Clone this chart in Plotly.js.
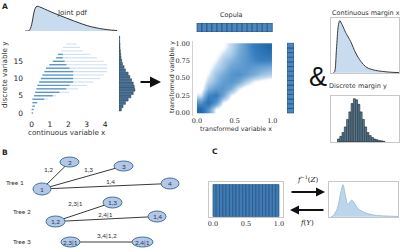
<!DOCTYPE html>
<html><head><meta charset="utf-8">
<script src="https://cdn.plot.ly/plotly-3.0.1.min.js"></script>
<style>html,body{margin:0;padding:0;background:#fff;}#chart{width:400px;height:251px;}</style>
</head><body><div id="chart"></div>
<script>
// ---------- Panel A: joint pdf (rows of points at discrete y) ----------
const jointRowY      = [0,   1,   2,   3,   4,   5,   6,   7,   8,   9,   10,  11,  12,  13,  14,  15,  16,  17,  18,  19,  20];
const jointRowStart  = [0.0, 0.0, 0.04,0.04,0.04,0.13,0.19,0.26,0.31,0.41,0.5, 0.59,0.69,0.78,0.96,1.15,1.33,1.43,1.61,1.7, 1.89];
const jointDenseEnd  = [0.08,0.11,0.18,0.31,0.69,1.15,1.52,1.89,2.07,2.26,2.26,2.26,2.26,2.07,1.89,1.8, 1.7, 1.7, 1.61,1.7, 1.89];
const jointSparseEnd = [0.08,0.11,0.18,0.31,0.9, 1.33,2.07,2.54,3.0, 3.37,3.74,3.93,4.11,4.11,4.11,3.93,3.56,3.19,2.81,2.63,2.44];
const jointKdeX = [-0.35,-0.15,0.0,0.1,0.2,0.29,0.45,0.7,1.0,1.45,1.9,2.35,2.8,3.25,3.7,4.15,4.65];
const jointKdeY = [0,0.01,0.25,0.65,0.92,1.0,0.97,0.89,0.79,0.65,0.52,0.39,0.27,0.17,0.10,0.05,0.02];
const jointHistY = [1.0,1.95,2.9,3.85,4.8,5.75,6.7,7.65,8.6,9.55,10.5,11.45,12.4,13.35,14.3,15.25,16.2,17.15,18.1,19.05,20.0,20.95,21.9];
const jointHistN = [7,12,19,27,35,42,47,45,42,37,32,27,19,15,10,8,6,5,4,3,3,2,2];
const jointTickX = [0,1,2,3,4];
const jointTickY = [0,5,10,15];

// ---------- Copula: density grid ----------
const copulaCenters = [0.05,0.15,0.25,0.35,0.45,0.55,0.65,0.75,0.85,0.95];
const copulaDensity = [
  [1.0, 0.6, 0.1, 0,   0,   0,   0,   0,   0,   0   ],
  [0.6, 0.9, 0.6, 0.15,0.02,0,   0,   0,   0,   0   ],
  [0.2, 0.7, 0.8, 0.5, 0.15,0.03,0,   0,   0,   0   ],
  [0.05,0.4, 0.55,0.6, 0.45,0.2, 0.05,0.02,0,   0   ],
  [0.02,0.25,0.4, 0.55,0.6, 0.5, 0.3, 0.15,0.1, 0.05],
  [0,   0.15,0.35,0.45,0.6, 0.65,0.55,0.45,0.35,0.3 ],
  [0,   0.08,0.25,0.35,0.5, 0.55,0.6, 0.55,0.5, 0.45],
  [0,   0.03,0.15,0.3, 0.4, 0.5, 0.6, 0.7, 0.75,0.75],
  [0,   0,   0.08,0.2, 0.3, 0.45,0.6, 0.75,0.85,0.9 ],
  [0,   0,   0.03,0.1, 0.25,0.4, 0.6, 0.8, 0.9, 1.0 ]
];
const copulaMarginCounts = [1,1,1,1,1,1,1,1,1,1,1,1,1,1,1];
const copulaTicksY = [0,0.25,0.5,0.75,1];
const copulaTicksX = [0,0.5,1];

// ---------- Margins ----------
const contX = [-0.2,-0.1,0.05,0.2,0.32,0.5,0.81,1.22,1.63,2.05,2.56,3.28,4.38,5.2];
const contY = [0,0.02,0.45,0.9,1.0,0.93,0.77,0.6,0.38,0.22,0.1,0.045,0.013,0.003];
const discreteY = [0,1,2,3,4,5,6,7,8,9,10,11,12,13,14,15,16,17,18,19,20];
const discreteN = [8,15,25,40,60,80,102,115,112,100,80,60,40,25,17,12,8,6,4,3,2];

// ---------- Panel C ----------
const uniformCounts = [1,1,1,1,1,1,1,1,1,1,1,1,1,1,1,1,1,1,1,1];
const uniformTicks = [0,0.5,1];
const bimodX = [0.03,0.058,0.12,0.17,0.203,0.235,0.271,0.3,0.329,0.37,0.42,0.522,0.667,0.909,1.0];
const bimodY = [0,0.02,0.25,0.75,1.0,0.7,0.37,0.45,0.52,0.42,0.25,0.125,0.044,0.0125,0.005];

// ---------- Panel B: vine trees ----------
const treeNodeLabels = ['1','2','3','4','1,2','1,3','1,4','2,3|1','2,4|1'];
const treeEdges = [[0,1],[0,2],[0,3],[4,5],[4,6],[7,8]];
const treeEdgeLabels = ['1,2','1,3','1,4','2,3|1','2,4|1','3,4|1,2'];
const treeLevelLabels = ['Tree 1','Tree 2','Tree 3'];

// ================= drawing =================
const W=400,H=251;
const PX=x=>x/W, PY=y=>1-y/H;
const dX=(a,b)=>[a/W,b/W], dY=(t,b)=>[1-b/H,1-t/H];
const SANS='DejaVu Sans', SERIF='DejaVu Serif', TREE='Lato';
function axis(dom, range, extra){
  return Object.assign({domain:dom, range:range, showgrid:false, zeroline:false, showline:false,
    ticks:'', showticklabels:false, fixedrange:true}, extra||{});
}
const frame={showline:true, mirror:true, linecolor:'#c8c8c8', linewidth:1};

// layout positions (pixels) for the diagram
const nodePos = [[42,189],[69.5,162],[123.5,166],[170,183.5],[55.5,221.5],[112.5,202.5],[157,216.5],[70.5,242],[142.5,242]];
const nodeSize = [[18,12],[19,10],[19,10],[18,11],[19,11],[19,11],[18,11],[19,10],[21,10]];
const edgeLabelPos = [[48,169],[88,169],[110,181.5],[75,203.5],[105,214],[107,235.5]];
const levelPos = [[15,182],[22,211],[22,241]];

const traces=[];
// A rows
let dxs=[],dys=[],sxs=[],sys=[];
jointRowY.forEach((y,i)=>{
  dxs.push(jointRowStart[i],jointDenseEnd[i],null); dys.push(y,y,null);
  if(jointSparseEnd[i]>jointDenseEnd[i]){ sxs.push(jointDenseEnd[i],jointSparseEnd[i],null); sys.push(y,y,null); }
});
traces.push({type:'scatter',mode:'lines',x:sxs,y:sys,xaxis:'x',yaxis:'y',line:{color:'#cfe1f1',width:1.1},hoverinfo:'skip'});
traces.push({type:'scatter',mode:'lines',x:dxs,y:dys,xaxis:'x',yaxis:'y',line:{color:'#5b96c9',width:1.4},hoverinfo:'skip'});
traces.push({type:'scatter',mode:'lines',x:jointKdeX,y:jointKdeY,xaxis:'x2',yaxis:'y2',fill:'tozeroy',
  fillcolor:'#c9dcef',line:{color:'#333',width:1,shape:'spline'},hoverinfo:'skip'});
traces.push({type:'bar',orientation:'h',x:jointHistN,y:jointHistY,xaxis:'x3',yaxis:'y3',width:0.8,
  marker:{color:'#3e6f9c',line:{color:'#1e1e1e',width:0.4}},hoverinfo:'skip'});
// Copula
traces.push({type:'heatmap',x:copulaCenters,y:copulaCenters,z:copulaDensity,xaxis:'x4',yaxis:'y4',zsmooth:'best',
  showscale:false,zmin:0,zmax:1,hoverinfo:'skip',
  colorscale:[[0,'rgba(255,255,255,0)'],[0.08,'rgba(255,255,255,0)'],[0.2,'#cfe2f3'],[0.45,'#78acd9'],[0.75,'#3a80c0'],[1,'#1f6aab']]});
const cm = copulaMarginCounts.map((c,i)=>(i+0.5)/copulaMarginCounts.length);
traces.push({type:'bar',x:cm,y:copulaMarginCounts,xaxis:'x5',yaxis:'y5',width:1/copulaMarginCounts.length,
  marker:{color:'#4a86c0',line:{color:'#1b3f66',width:0.6}},hoverinfo:'skip'});
traces.push({type:'bar',orientation:'h',y:cm,x:copulaMarginCounts,xaxis:'x6',yaxis:'y6',width:1/copulaMarginCounts.length,
  marker:{color:'#4a86c0',line:{color:'#1b3f66',width:0.6}},hoverinfo:'skip'});
// Margins
traces.push({type:'scatter',mode:'lines',x:contX,y:contY,xaxis:'x7',yaxis:'y7',fill:'tozeroy',
  fillcolor:'#c9dcef',line:{color:'#3a3a3a',width:1,shape:'spline',smoothing:0.8},hoverinfo:'skip'});
traces.push({type:'bar',x:discreteY,y:discreteN,xaxis:'x8',yaxis:'y8',width:0.85,
  marker:{color:'#52809f',line:{color:'#222',width:0.6}},hoverinfo:'skip'});
// C
const um = uniformCounts.map((c,i)=>(i+0.5)/uniformCounts.length);
traces.push({type:'bar',x:um,y:uniformCounts,xaxis:'x9',yaxis:'y9',width:1/uniformCounts.length,
  marker:{color:'#3f7cb6',line:{color:'#1d4a75',width:0.6}},hoverinfo:'skip'});
traces.push({type:'scatter',mode:'lines',x:bimodX,y:bimodY,xaxis:'x10',yaxis:'y10',fill:'tozeroy',
  fillcolor:'#bcd5eb',line:{color:'#8db6dc',width:0.8,shape:'spline',smoothing:0.7},hoverinfo:'skip'});

const tf=(s,f)=>({size:s,family:f||SANS,color:'#222'});
const layout={
  width:W,height:H,margin:{l:0,r:0,t:0,b:0},paper_bgcolor:'#fff',plot_bgcolor:'rgba(0,0,0,0)',
  showlegend:false,barmode:'overlay',
  xaxis:axis(dX(25,118),[-0.36,4.7],{anchor:'y',showticklabels:true,tickvals:jointTickX,tickfont:tf(7.5),ticklabelstandoff:0}),
  yaxis:axis(dY(33,118),[-1.45,23.2],{anchor:'x',showticklabels:true,tickvals:jointTickY,tickfont:tf(7.5),ticklabelstandoff:1}),
  xaxis2:axis(dX(25,118),[-0.36,4.7],{anchor:'y2'}),
  yaxis2:axis(dY(5,31),[0,1.05],{anchor:'x2'}),
  xaxis3:axis(dX(119,138),[0,56],{anchor:'y3'}),
  yaxis3:axis(dY(33,118),[-1.45,23.2],{anchor:'x3'}),
  xaxis4:axis(dX(193.2,276.1),[-0.05,1.05],{anchor:'y4',showticklabels:true,tickvals:copulaTicksX,tickformat:'.1f',tickfont:tf(6.5,SERIF),ticklabelstandoff:0}),
  yaxis4:axis(dY(40.5,115.8),[-0.04,1.04],{anchor:'x4',showticklabels:true,tickvals:copulaTicksY,tickformat:'.2f',tickfont:tf(6.5,SERIF),ticklabelstandoff:1,showline:true,linecolor:'#d0d0d0',linewidth:1}),
  xaxis5:axis(dX(193.2,276.1),[-0.05,1.05],{anchor:'y5'}),
  yaxis5:axis(dY(23,32),[0,1],{anchor:'x5'}),
  xaxis6:axis(dX(287,294),[0,1],{anchor:'y6'}),
  yaxis6:axis(dY(40.5,115.8),[-0.04,1.04],{anchor:'x6'}),
  xaxis7:axis(dX(331,399),[-0.4,5.2],Object.assign({anchor:'y7'},frame)),
  yaxis7:axis(dY(18.3,73.3),[-0.01,1.045],Object.assign({anchor:'x7'},frame)),
  xaxis8:axis(dX(331,399),[-3.3,26.7],Object.assign({anchor:'y8'},frame)),
  yaxis8:axis(dY(95.7,142),[0,123],Object.assign({anchor:'x8'},frame)),
  xaxis9:axis(dX(209,283.3),[-0.06,1.065],Object.assign({anchor:'y9',showticklabels:true,tickvals:uniformTicks,tickformat:'.1f',tickfont:tf(6.5,SERIF),ticklabelstandoff:0},frame)),
  yaxis9:axis(dY(182,217),[-0.016,1.08],Object.assign({anchor:'x9'},frame)),
  xaxis10:axis(dX(329,398),[0,1],Object.assign({anchor:'y10'},frame)),
  yaxis10:axis(dY(182,217),[-0.01,1.084],Object.assign({anchor:'x10'},frame)),
  shapes:[], annotations:[]
};

function ann(text,x,y,o){
  layout.annotations.push(Object.assign({text:text,x:PX(x),y:PY(y),xref:'paper',yref:'paper',showarrow:false,
    xanchor:'center',yanchor:'middle',font:{size:7,family:SANS,color:'#222'}},o||{}));
}
function arrow(xh,yh,xt,yt,w){
  layout.annotations.push({text:'',x:PX(xh),y:PY(yh),ax:xt-xh,ay:yt-yh,xref:'paper',yref:'paper',showarrow:true,
    arrowhead:2,arrowsize:1,arrowwidth:w,arrowcolor:'#111'});
}
// panel letters & titles
ann('<b>A</b>',5,7,{font:{size:7.5,family:SANS,color:'#222'}});
ann('<b>B</b>',5,152,{font:{size:7.5,family:SANS,color:'#222'}});
ann('<b>C</b>',215,151,{font:{size:7.5,family:SANS,color:'#222'}});
ann('Joint pdf',72,13,{font:{size:7,family:SANS,color:'#333'}});
ann('Copula',232,15,{font:{size:6.5,family:SANS,color:'#333'}});
ann('Continuous margin x',366,13,{font:{size:6.5,family:SANS,color:'#333'}});
ann('Discrete margin y',358,86,{font:{size:6.5,family:SANS,color:'#333'}});
ann('continuous variable x',67,132,{font:{size:7.2,family:SANS,color:'#333'}});
ann('discrete variable y',5,75,{textangle:-90,font:{size:7.2,family:SANS,color:'#333'}});
ann('transformed variable x',236,128,{font:{size:6.3,family:SANS,color:'#333'}});
ann('transformed variable y',172,77,{textangle:-90,font:{size:6.3,family:SANS,color:'#333'}});
ann('&',318,77,{font:{size:27,family:'Liberation Sans',color:'#111'}});
ann('<i>f</i><sup>−1</sup>(<i>Z</i>)',307,179,{font:{size:7,family:SERIF,color:'#222'}});
ann('<i>f</i>(<i>Y</i>)',307,223,{font:{size:7,family:SERIF,color:'#222'}});
arrow(161,82,139,82,2.2);
arrow(325,192,290,192,1.8);
arrow(290,210,325,210,1.8);

// tree diagram
treeEdges.forEach(e=>{
  const a=nodePos[e[0]],b=nodePos[e[1]];
  layout.shapes.push({type:'line',xref:'paper',yref:'paper',x0:PX(a[0]),y0:PY(a[1]),x1:PX(b[0]),y1:PY(b[1]),line:{color:'#3a3a3a',width:1}});
});
treeNodeLabels.forEach((t,i)=>{
  const p=nodePos[i],s=nodeSize[i];
  layout.shapes.push({type:'circle',xref:'paper',yref:'paper',x0:PX(p[0]-s[0]/2),x1:PX(p[0]+s[0]/2),y0:PY(p[1]+s[1]/2),y1:PY(p[1]-s[1]/2),
    fillcolor:'#b4c7e7',line:{color:'#41719c',width:1}});
  ann(t,p[0],p[1],{font:{size:6.5,family:TREE,color:'#1f3864'}});
});
treeEdgeLabels.forEach((t,i)=>ann(t,edgeLabelPos[i][0],edgeLabelPos[i][1],{font:{size:6.5,family:TREE,color:'#333'}}));
treeLevelLabels.forEach((t,i)=>ann(t,levelPos[i][0],levelPos[i][1],{font:{size:6.5,family:TREE,color:'#333'}}));

Plotly.newPlot('chart',traces,layout,{staticPlot:true,displayModeBar:false});
</script>
</body></html>
